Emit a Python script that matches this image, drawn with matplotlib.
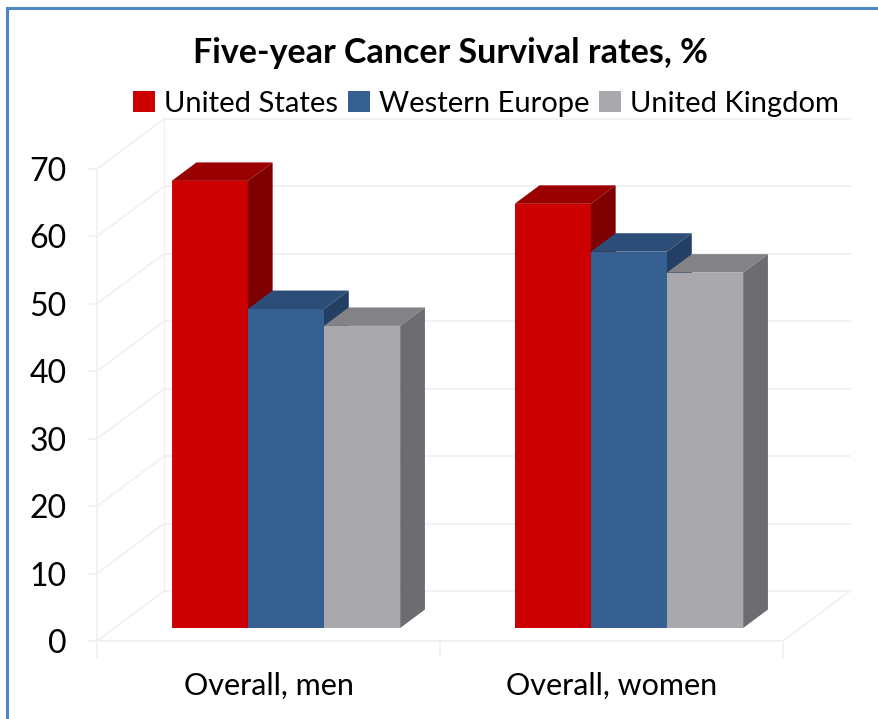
import matplotlib.pyplot as plt
from matplotlib.patches import Polygon, Patch
from matplotlib.lines import Line2D

plt.rcParams['font.family'] = ['Lato', 'DejaVu Sans']

categories = ["Overall, men", "Overall, women"]
series = ["United States", "Western Europe", "United Kingdom"]
us = [66.3, 62.9]
w_europe = [47.3, 55.8]
uk = [44.8, 52.7]
yticks = [0, 10, 20, 30, 40, 50, 60, 70]

# front / top / side shades for each series
colors = {
    "United States": ("#CC0000", "#9A0000", "#7E0000"),
    "Western Europe": ("#376092", "#2B4D78", "#233F63"),
    "United Kingdom": ("#A9A9AD", "#838387", "#6D6D71"),
}
values = {"United States": us, "Western Europe": w_europe, "United Kingdom": uk}

# oblique projection of depth z (0 = front, 1 = back wall)
kx, ky = 0.1953, 7.40
z0, z1 = 0.26, 0.63
bw = 0.222
grid_c = "#F1F1F1"


def proj(x, y, z):
    return (x + kx * z, y + ky * z)


fig = plt.figure(figsize=(8.79, 7.19), dpi=100)
ax = fig.add_axes([97 / 879, 78 / 719, 753 / 879, 522 / 719])
ax.set_xlim(-0.5, 1.5 + kx)
ax.set_ylim(0, 70 + ky)
for s in ax.spines.values():
    s.set_visible(False)

# walls and floor
x0, x1 = -0.5, 1.5
for v in yticks:
    ax.plot(*zip(proj(x0, v, 1), proj(x1, v, 1)), color=grid_c, lw=1.3, clip_on=False, zorder=1)
    ax.plot(*zip(proj(x0, v, 0), proj(x0, v, 1)), color=grid_c, lw=1.3, clip_on=False, zorder=1)
ax.plot(*zip(proj(x0, 0, 0), proj(x1, 0, 0)), color=grid_c, lw=1.5, clip_on=False, zorder=1)
ax.plot(*zip(proj(x1, 0, 0), proj(x1, 0, 1)), color=grid_c, lw=1.3, clip_on=False, zorder=1)
ax.plot(*zip(proj(x0, 0, 0), proj(x0, 70, 0)), color=grid_c, lw=1.3, clip_on=False, zorder=1)
ax.plot(*zip(proj(x0, 0, 1), proj(x0, 70, 1)), color=grid_c, lw=1.0, clip_on=False, zorder=1)

# bars: front face via ax.bar, top and side faces as polygons
for j, c in enumerate(range(len(categories))):
    for i, name in enumerate(series):
        v = values[name][j]
        front, top, side = colors[name]
        xl = c - 1.5 * bw + i * bw
        xr = xl + bw
        ax.bar(xl + kx * z0, v, width=bw, bottom=ky * z0, align='edge',
               color=front, linewidth=0, zorder=3 + i)
        ax.add_patch(Polygon([proj(xl, v, z0), proj(xr, v, z0), proj(xr, v, z1), proj(xl, v, z1)],
                             closed=True, facecolor=top, edgecolor='none', zorder=3 + i, clip_on=False))
        ax.add_patch(Polygon([proj(xr, 0, z0), proj(xr, v, z0), proj(xr, v, z1), proj(xr, 0, z1)],
                             closed=True, facecolor=side, edgecolor='none', zorder=3 + i, clip_on=False))

ax.set_yticks(yticks)
ax.set_yticklabels([str(t) for t in yticks], fontsize=23)
ax.tick_params(axis='y', length=7, color=grid_c, pad=15, width=1.2)
ax.set_xticks([0, 1])
ax.set_xticklabels(categories, fontsize=22)
ax.tick_params(axis='x', which='major', length=0, pad=22)
ax.set_xticks([-0.5, 0.5, 1.5], minor=True)
ax.tick_params(axis='x', which='minor', length=12, color=grid_c, width=1.2)

fig.text(0.512, 0.926, "Five-year Cancer Survival rates, %", ha='center', va='center',
         fontsize=24.5, fontweight='bold')
handles = [Patch(facecolor=colors[n][0], edgecolor='none') for n in series]
fig.legend(handles, series, loc='center', bbox_to_anchor=(0.553, 0.856), ncol=3,
           frameon=False, fontsize=21, handlelength=0.75, handleheight=0.75,
           handletextpad=0.3, columnspacing=0.35, borderaxespad=0)

# frame along the left and top edges
fig.add_artist(Line2D([7 / 879, 7 / 879], [0, 1 - 8 / 719], transform=fig.transFigure,
                      color="#4F86C6", lw=2.2))
fig.add_artist(Line2D([7 / 879, 1], [1 - 8 / 719, 1 - 8 / 719], transform=fig.transFigure,
                      color="#4F86C6", lw=2.2))

fig.savefig("out.png", dpi=100)
